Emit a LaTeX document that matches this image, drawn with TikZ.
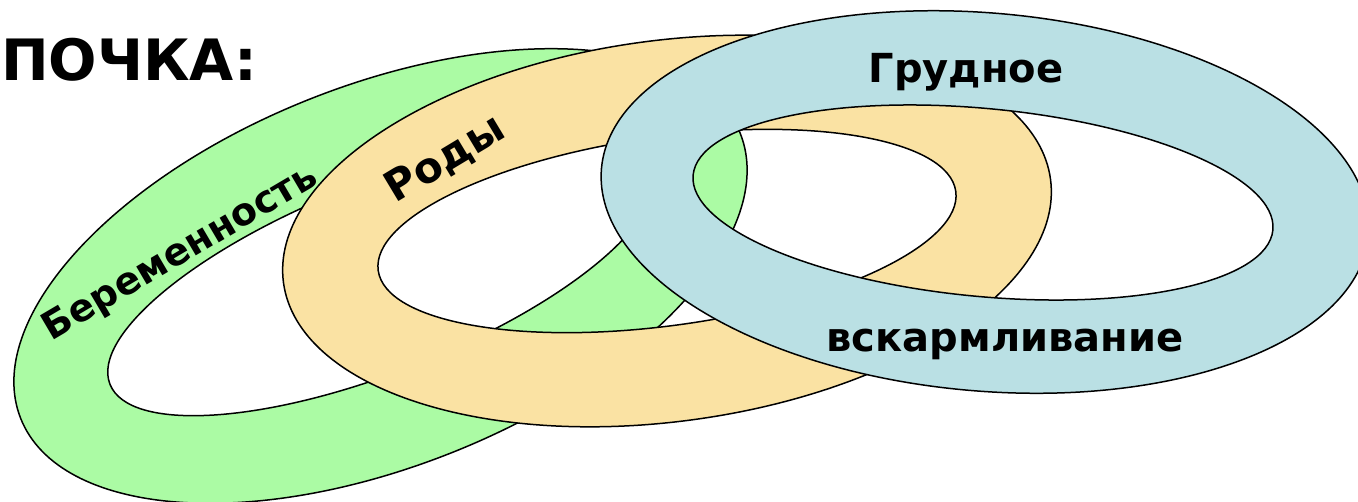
\documentclass[tikz,border=0pt]{standalone}
\usepackage{fontspec}
\setmainfont{DejaVu Sans}
\definecolor{gfill}{RGB}{171,251,164}
\definecolor{yfill}{RGB}{250,226,163}
\definecolor{bfill}{RGB}{186,224,228}
\begin{document}
\begin{tikzpicture}[x=1pt,y=-1pt,
  ring/.style={draw=black, line width=1.5pt, even odd rule},
  lbl/.style={font=\bfseries\fontsize{40}{40}\selectfont, inner sep=0pt, text=black}]
\useasboundingbox (0,0) rectangle (1358,501);
\clip (0,0) rectangle (1358,501);
% green ring (bottom)
\path[ring, fill=gfill]
  (380.5,276) ellipse[x radius=387pt, y radius=190.5pt, rotate=21.6]
  (381,277) ellipse[x radius=291.5pt, y radius=94.5pt, rotate=21.6];
% yellow ring
\path[ring, fill=yfill]
  (667,231) ellipse[x radius=387pt, y radius=190.5pt, rotate=7.7]
  (667,231) ellipse[x radius=291.5pt, y radius=94.5pt, rotate=7.8];
% blue ring (top)
\path[ring, fill=bfill]
  (985,202) ellipse[x radius=385pt, y radius=189pt, rotate=-5]
  (983,202.5) ellipse[x radius=291.2pt, y radius=94pt, rotate=-5.4];
% labels
\node[lbl, anchor=base west, font=\bfseries\fontsize{57}{57}\selectfont] (title) at (1,80) {ПОЧКА:};
\node[lbl, anchor=base] (grud) at (966,82) {Грудное};
\node[lbl, anchor=base] (vskarm) at (1005,351) {вскармливание};
\node[lbl, anchor=base, rotate=31, font=\bfseries\fontsize{42}{42}\selectfont] (rody) at (452,170) {Роды};
\node[lbl, anchor=base, rotate=30.5, font=\bfseries\fontsize{38}{38}\selectfont] (berem) at (186,262) {Беременность};
\end{tikzpicture}
\end{document}
